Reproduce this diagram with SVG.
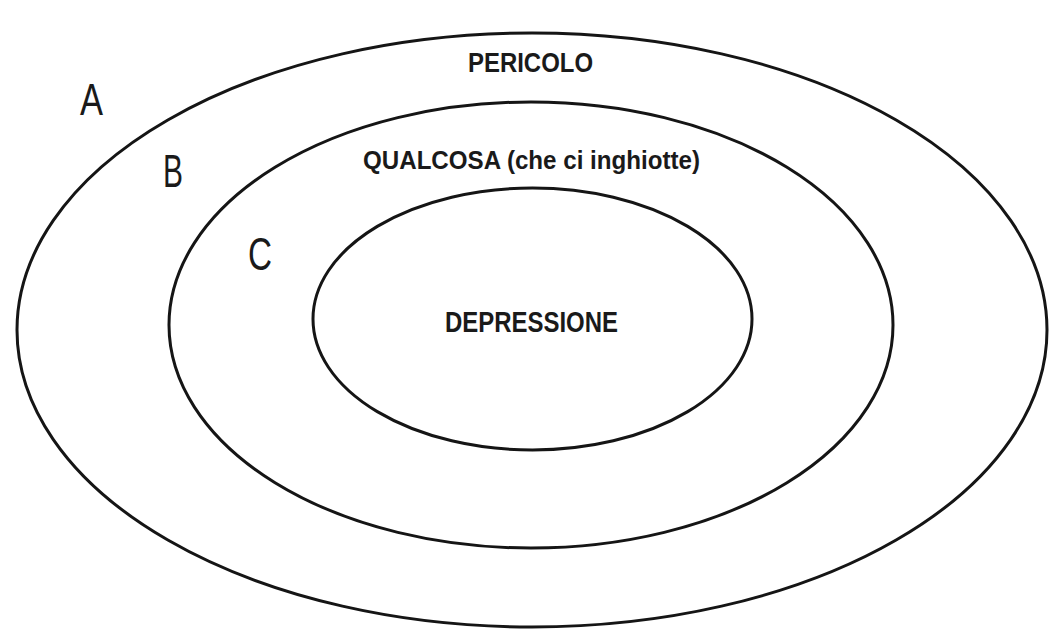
<svg xmlns="http://www.w3.org/2000/svg" width="1053" height="630" viewBox="0 0 1053 630">
<style>
.ring{fill:none;stroke:#151515;stroke-width:3}
.lbl{font-family:"Liberation Sans",Arial,sans-serif;font-weight:bold;fill:#1a1a1a}
.let{font-family:"Liberation Sans",Arial,sans-serif;fill:#1a1a1a}
</style>
<rect width="1053" height="630" fill="#ffffff"/>
<g id="ringA">
<ellipse class="ring" cx="532" cy="330" rx="515" ry="297"/>
<text class="let" x="80" y="115" font-size="45" textLength="23" lengthAdjust="spacingAndGlyphs">A</text>
<text class="lbl" x="468" y="72" font-size="27" textLength="125" lengthAdjust="spacingAndGlyphs">PERICOLO</text>
</g>
<g id="ringB">
<ellipse class="ring" cx="531" cy="325" rx="362" ry="223"/>
<text class="let" x="163" y="187" font-size="46" textLength="20" lengthAdjust="spacingAndGlyphs">B</text>
<text class="lbl" x="363" y="169" font-size="26" textLength="337" lengthAdjust="spacingAndGlyphs">QUALCOSA (che ci inghiotte)</text>
</g>
<g id="ringC">
<ellipse class="ring" cx="532.5" cy="319" rx="219.5" ry="131"/>
<text class="let" x="248" y="270" font-size="47" textLength="24" lengthAdjust="spacingAndGlyphs">C</text>
<text class="lbl" x="445" y="332" font-size="29" textLength="173" lengthAdjust="spacingAndGlyphs">DEPRESSIONE</text>
</g>
<g id="connectors"></g>
</svg>
